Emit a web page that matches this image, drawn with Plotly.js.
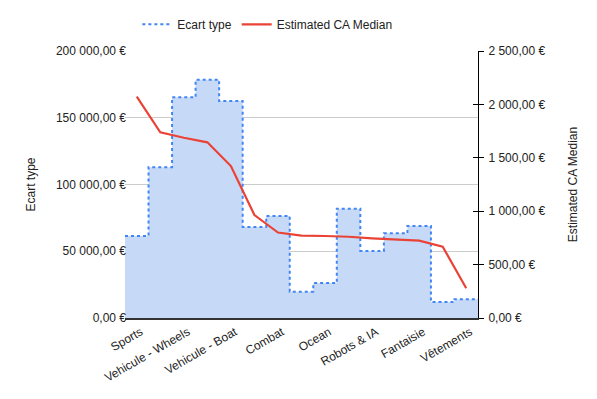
<!DOCTYPE html>
<html><head><meta charset="utf-8">
<script src="https://cdn.plot.ly/plotly-3.0.1.min.js"></script>
<style>html,body{margin:0;padding:0;background:#fff}#c{width:597px;height:399px}</style>
</head><body><div id="c"></div>
<script>
var categories = ["Sports","","Vehicule - Wheels","","Vehicule - Boat","","Combat","","Ocean","","Robots & IA","","Fantaisie","","Vêtements"];
var ecartType = [61400,112900,165300,178500,162500,68200,76400,19700,26200,81900,50200,63400,68900,12000,14000];
var caMedian = [2072,1739,1688,1645,1423,964,800,771,768,761,746,737,724,668,278];
var leftTicks = [0,50000,100000,150000,200000];
var rightTicks = [0,500,1000,1500,2000,2500];

function euro(v){
  var s = v.toFixed(2).split(".");
  var intPart = s[0].replace(/\B(?=(\d{3})+(?!\d))/g, " ");
  return intPart + "," + s[1] + " €";
}

var idx = categories.map(function(_, i){ return i; });
var stepX = idx.map(function(i){ return i - 0.5; }).concat([categories.length - 0.5]);
var stepY = ecartType.concat([ecartType[ecartType.length - 1]]);
var labelIdx = idx.filter(function(i){ return categories[i] !== ""; });

var font = {family: "Liberation Sans, Arial, sans-serif", size: 12, color: "#222"};

var traces = [
  {x: stepX, y: stepY, type: "scatter", mode: "lines", line: {shape: "hv", width: 0, color: "rgba(0,0,0,0)"},
   fill: "tozeroy", fillcolor: "#c6daf8", showlegend: false, hoverinfo: "skip"},
  {x: stepX, y: stepY, type: "scatter", mode: "lines", name: "Ecart type",
   line: {shape: "hv", width: 2, dash: "dot", color: "#4285f4"}},
  {x: idx, y: caMedian, type: "scatter", mode: "lines", name: "Estimated CA Median", yaxis: "y2",
   line: {width: 2.2, color: "#ea4335"}},
  {x: [0], y: [null], type: "scatter", mode: "lines", yaxis: "y3", showlegend: false, hoverinfo: "skip"}
];

var layout = {
  width: 597, height: 399,
  margin: {l: 125, r: 119, t: 51, b: 81, autoexpand: false},
  paper_bgcolor: "#fff", plot_bgcolor: "#fff",
  font: font,
  showlegend: true,
  legend: {orientation: "h", x: 0.035, xanchor: "left", y: 1.1, yanchor: "middle", font: font,
           traceorder: "normal", itemwidth: 30},
  xaxis: {range: [-0.5, categories.length - 0.5], tickvals: labelIdx, ticktext: labelIdx.map(function(i){ return categories[i]; }),
          tickangle: -30, showgrid: false, zeroline: false, showline: true, linecolor: "#333", linewidth: 1.5,
          ticks: "", tickfont: font, automargin: false, ticklabelstandoff: 1, ticklabelshift: 4},
  yaxis: {range: [0, 200000], tickvals: leftTicks, ticktext: leftTicks.map(euro),
          showgrid: true, gridcolor: "#cccccc", zeroline: false, showline: false, ticks: "", automargin: false,
          tickfont: font, ticklabelstandoff: -2, title: {text: "Ecart type", font: font, standoff: 17}},
  yaxis2: {range: [0, 2500], tickvals: rightTicks, ticktext: rightTicks.map(euro), overlaying: "y", side: "right",
           showgrid: false, zeroline: false, showline: true, linecolor: "#000", linewidth: 1, automargin: false,
           ticks: "outside", ticklen: 5, tickcolor: "#000", tickfont: font, ticklabelstandoff: 2,
           title: {text: "Estimated CA Median", font: font, standoff: 24}},
  yaxis3: {range: [0, 2500], tickvals: rightTicks, overlaying: "y", side: "right", showticklabels: false, automargin: false,
           showgrid: false, zeroline: false, showline: false, ticks: "inside", ticklen: 5, tickcolor: "#000"}
};

Plotly.newPlot("c", traces, layout, {staticPlot: true});
</script></body></html>
